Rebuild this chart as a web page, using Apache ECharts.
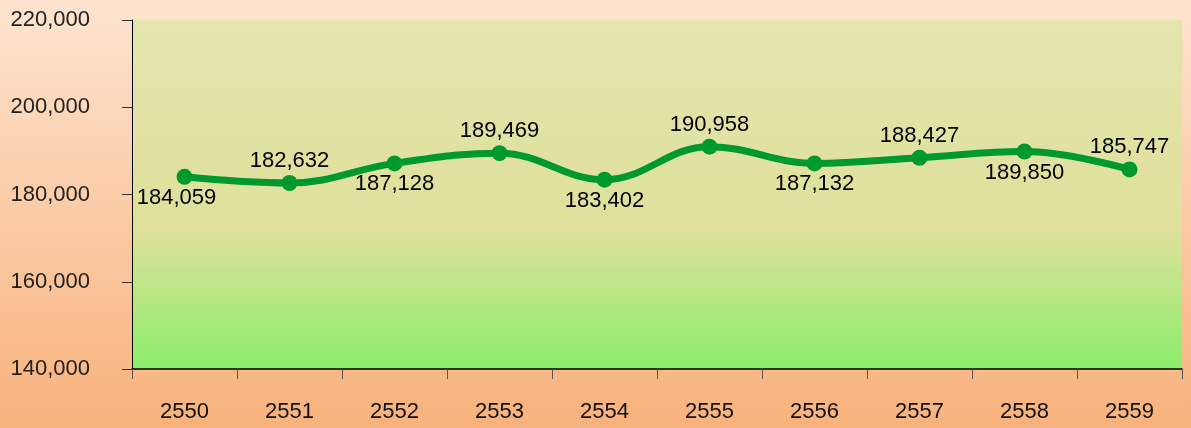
<!DOCTYPE html>
<html lang="en">
<head>
    <meta charset="utf-8">
    <title>Line chart 2550-2559</title>
    <script src="https://cdn.jsdelivr.net/npm/echarts@6/dist/echarts.min.js"></script>
    <style>
        html, body { margin: 0; padding: 0; }
        #main { width: 1191px; height: 428px; }
    </style>
</head>
<body>
    <div id="main"></div>
    <script type="text/javascript">
        var years = ['2550', '2551', '2552', '2553', '2554', '2555', '2556', '2557', '2558', '2559'];
        var values = [184059, 182632, 187128, 189469, 183402, 190958, 187132, 188427, 189850, 185747];
        var yTicks = [140000, 160000, 180000, 200000, 220000];

        var myChart = echarts.init(document.getElementById('main'));

        // labels alternate below / above the points
        var seriesData = values.map(function (v, i) {
            var below = i % 2 === 0;
            return {
                value: v,
                label: {
                    position: 'inside',
                    offset: [i === 0 ? -8 : 0, below ? 21 : -22]
                }
            };
        });

        myChart.setOption({
            backgroundColor: new echarts.graphic.LinearGradient(0, 0, 0, 1, [
                { offset: 0, color: '#fde4cf' },
                { offset: 1, color: '#f8b27c' }
            ]),
            textStyle: { fontFamily: 'Liberation Sans, Arial, sans-serif' },
            grid: {
                left: 132,
                right: 9,
                top: 20,
                bottom: 59,
                show: true,
                borderWidth: 0,
                backgroundColor: new echarts.graphic.LinearGradient(0, 0, 0, 1, [
                    { offset: 0, color: '#e3e5ad' },
                    { offset: 0.6, color: '#dfe09b' },
                    { offset: 1, color: '#8cee6b' }
                ])
            },
            xAxis: {
                type: 'category',
                data: years,
                boundaryGap: true,
                axisLine: { lineStyle: { color: '#000', width: 1.5 } },
                axisTick: { show: true, length: 10, lineStyle: { color: '#555' } },
                axisLabel: { color: '#111', fontSize: 22, margin: 32 }
            },
            yAxis: {
                type: 'value',
                min: yTicks[0],
                max: yTicks[yTicks.length - 1],
                interval: yTicks[1] - yTicks[0],
                axisLine: { show: true, lineStyle: { color: '#000' } },
                axisTick: { show: true, length: 10, lineStyle: { color: '#333' } },
                splitLine: { show: false },
                axisLabel: {
                    color: '#222',
                    fontSize: 22,
                    margin: 42,
                    formatter: function (v) { return v.toLocaleString('en-US'); }
                }
            },
            series: [{
                type: 'line',
                data: seriesData,
                smooth: 0.4,
                symbol: 'circle',
                symbolSize: 16,
                itemStyle: { color: '#00992e' },
                lineStyle: { color: '#00992e', width: 7 },
                label: {
                    show: true,
                    color: '#000',
                    fontSize: 22,
                    formatter: function (p) { return p.value.toLocaleString('en-US'); }
                },
                animation: false
            }]
        });
    </script>
</body>
</html>
